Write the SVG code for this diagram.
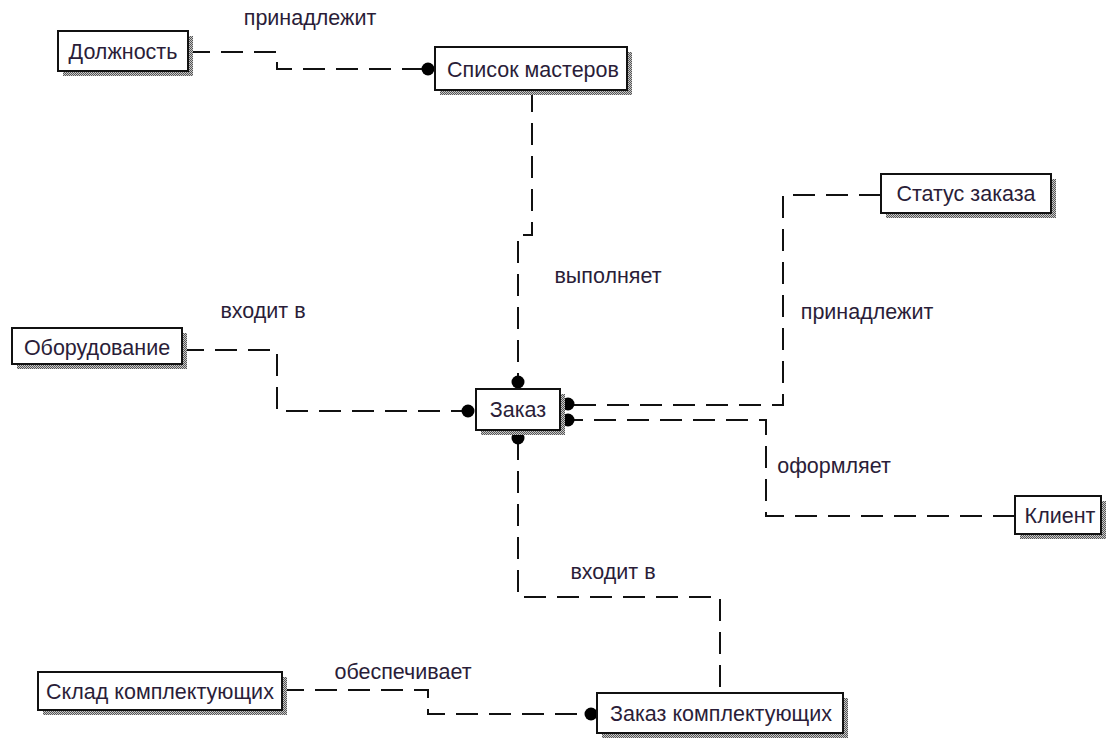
<svg xmlns="http://www.w3.org/2000/svg" width="1107" height="738" viewBox="0 0 1107 738">
  <defs>
    <!-- stippled drop shadow used by every entity box -->
    <pattern id="stipple" width="2" height="2" patternUnits="userSpaceOnUse">
      <rect width="2" height="2" fill="#c8c8c8"/>
      <rect width="1" height="1" fill="#555"/>
      <rect x="1" y="1" width="1" height="1" fill="#555"/>
    </pattern>
  </defs>
  <style>
    .shadow { fill: url(#stipple); }
    .box { fill: #ffffff; stroke: #111; stroke-width: 2; }
    .name { font-family: "Liberation Sans", Arial, sans-serif; font-size: 21.5px; fill: #2a1d38; text-anchor: middle; }
    .rel { font-family: "Liberation Sans", Arial, sans-serif; font-size: 21.5px; fill: #2a1d38; text-anchor: middle; }
    .link { fill: none; stroke: #111; stroke-width: 2; stroke-dasharray: 22 11; }
    .dot { fill: #000; }
  </style>
  <rect width="1107" height="738" fill="#ffffff"/>

  <!-- relationships -->
  <g id="connectors">
    <path class="link" d="M188,52 H277 V69 H428"/>
    <circle class="dot" cx="428" cy="69" r="6.5"/>

    <path class="link" d="M532,90 V235 H518 V383"/>
    <circle class="dot" cx="518" cy="382" r="6.5"/>

    <path class="link" d="M182,350 H277 V411 H468"/>
    <circle class="dot" cx="468" cy="411" r="6.5"/>

    <path class="link" d="M881,195 H783 V405 H568"/>
    <circle class="dot" cx="568" cy="404" r="6.5"/>

    <path class="link" d="M1015,516 H766 V420 H568"/>
    <circle class="dot" cx="568" cy="420" r="6.5"/>

    <path class="link" d="M518,438 V597 H720 V693"/>
    <circle class="dot" cx="518" cy="438" r="6.5"/>

    <path class="link" d="M282,690 H428 V714 H591"/>
    <circle class="dot" cx="591" cy="714" r="6.5"/>
  </g>

  <!-- relationship names -->
  <g id="labels">
    <text class="rel" x="310" y="25">принадлежит</text>
    <text class="rel" x="608" y="283">выполняет</text>
    <text class="rel" x="263" y="318">входит в</text>
    <text class="rel" x="867" y="319">принадлежит</text>
    <text class="rel" x="834" y="473">оформляет</text>
    <text class="rel" x="613" y="579">входит в</text>
    <text class="rel" x="403" y="679">обеспечивает</text>
  </g>

  <!-- entities -->
  <g id="dolzhnost">
    <rect class="shadow" x="63" y="36" width="130" height="40"/>
    <rect class="box" x="58" y="31" width="130" height="40"/>
    <text class="name" x="123" y="59">Должность</text>
  </g>
  <g id="spisok-masterov">
    <rect class="shadow" x="440" y="52" width="192" height="43"/>
    <rect class="box" x="435" y="47" width="192" height="43"/>
    <text class="name" x="533" y="77">Список мастеров</text>
  </g>
  <g id="status-zakaza">
    <rect class="shadow" x="886" y="179" width="170" height="39"/>
    <rect class="box" x="881" y="174" width="170" height="39"/>
    <text class="name" x="966" y="201">Статус заказа</text>
  </g>
  <g id="oborudovanie">
    <rect class="shadow" x="17" y="333" width="170" height="36"/>
    <rect class="box" x="12" y="328" width="170" height="36"/>
    <text class="name" x="97" y="355">Оборудование</text>
  </g>
  <g id="zakaz">
    <rect class="shadow" x="481" y="394" width="84" height="41"/>
    <rect class="box" x="476" y="389" width="84" height="41"/>
    <text class="name" x="518" y="417">Заказ</text>
  </g>
  <g id="klient">
    <rect class="shadow" x="1020" y="501" width="86" height="38"/>
    <rect class="box" x="1015" y="496" width="86" height="38"/>
    <text class="name" x="1060" y="523">Клиент</text>
  </g>
  <g id="sklad-komplektuyushchikh">
    <rect class="shadow" x="43" y="677" width="244" height="38"/>
    <rect class="box" x="38" y="672" width="244" height="38"/>
    <text class="name" x="160" y="699">Склад комплектующих</text>
  </g>
  <g id="zakaz-komplektuyushchikh">
    <rect class="shadow" x="602" y="698" width="246" height="40"/>
    <rect class="box" x="597" y="693" width="246" height="40"/>
    <text class="name" x="721" y="721">Заказ комплектующих</text>
  </g>
</svg>
